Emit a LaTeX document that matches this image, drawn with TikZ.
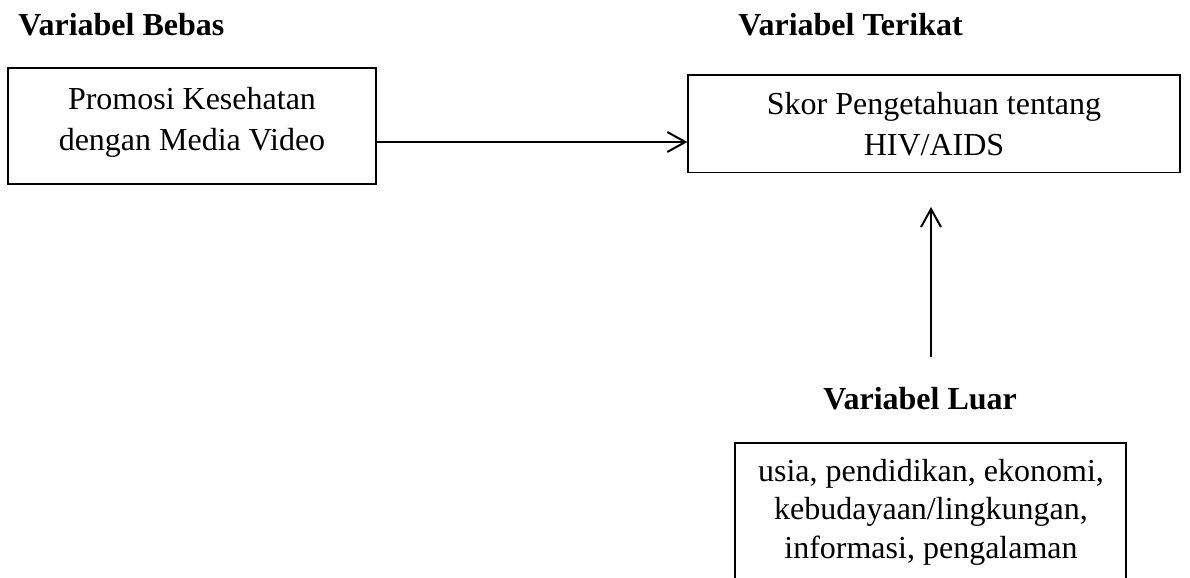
\documentclass[tikz,border=0pt]{standalone}
\usepackage{fontspec}
\setmainfont{Liberation Serif}
\usetikzlibrary{arrows.meta}

\tikzset{
  box/.style={draw, line width=0.65pt, rectangle, inner sep=0pt},
  body/.style={font=\fontsize{16pt}{20.5pt}\selectfont, align=center, inner sep=0pt, anchor=base},
  heading/.style={font=\fontsize{16pt}{20pt}\selectfont\bfseries, inner sep=0pt, anchor=base west},
  arr/.style={line width=1pt, -{Straight Barb[length=9pt,width=10pt,line width=1pt]}}
}

\begin{document}
\begin{tikzpicture}[x=0.5pt, y=-0.5pt]
  \clip (0,0) rectangle (1190,578);
  \useasboundingbox (0,0) rectangle (1190,578);

  % headings
  \node[heading] (hbebas) at (18,35) {Variabel Bebas};
  \node[heading] (hterikat) at (738,35) {Variabel Terikat};
  \node[heading] (hluar) at (823,409) {Variabel Luar};

  % independent variable (text anchored on its last baseline)
  \node[box, minimum width=184pt, minimum height=58pt] (bebas) at (192,126) {};
  \node[body] (tbebas) at (192,150) {Promosi Kesehatan\\dengan Media Video};

  % dependent variable
  \node[box, minimum width=246pt, minimum height=48.75pt] (terikat) at (934,123.75) {};
  \node[body] (tterikat) at (934,155) {Skor Pengetahuan tentang\\HIV/AIDS};

  % extraneous variables (box runs past the lower edge)
  \node[box, minimum width=195.5pt, minimum height=90pt] (luar) at (930.5,533) {};
  \node[body, font=\fontsize{16pt}{19.25pt}\selectfont] (tluar) at (931,558)
    {usia, pendidikan, ekonomi,\\kebudayaan/lingkungan,\\informasi, pengalaman};

  % connectors
  \coordinate (ay) at (0,142);
  \draw[arr] (bebas.east |- ay) -- (terikat.west |- ay);

  \coordinate (vstart) at (931,357);
  \coordinate (vend) at (931,207);
  \draw[arr] (vstart) -- (vend);
\end{tikzpicture}
\end{document}
